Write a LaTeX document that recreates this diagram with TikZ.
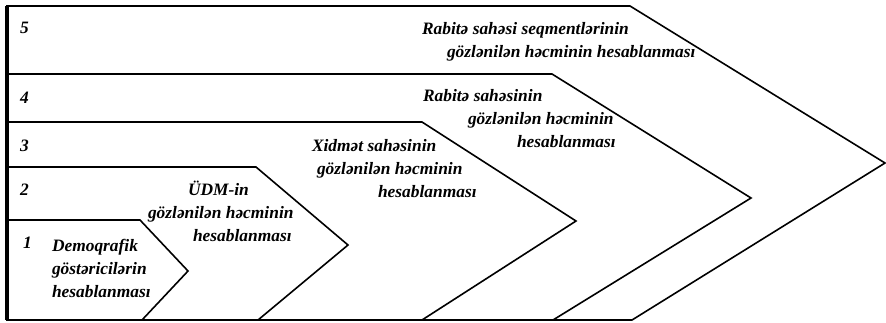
\documentclass[tikz,border=0pt]{standalone}
\usepackage{fontspec}
\setmainfont{Liberation Serif}
\usepackage{tikz}
\usetikzlibrary{positioning}
\newdimen\px
\px=0.5pt
\tikzset{
    chevron/.style={draw=black, fill=white, line width=0.8pt, line join=miter},
    lbl/.style={inner sep=0, outer sep=0, font=\bfseries\itshape\fontsize{8.7}{11.4}\selectfont},
    block/.style={lbl, align=left, anchor=base west}
}
\begin{document}
\begin{tikzpicture}[x=0.5pt, y=-0.5pt]
    \useasboundingbox (0,0) rectangle (886,322);

    % chevrons, biggest first
    \foreach \i/\t/\a/\tx/\ty/\b in {
        5/6/630/885/163/632,
        4/74/552/751/198/553,
        3/122/422/576/221/422,
        2/167/256/348/245/258,
        1/220/140/188/271/142}{

        \draw[chevron]
            (7,\t) -- (\a,\t) -- (\tx,\ty) -- (\b,320) -- (7,320) -- cycle;
    }

    % left border
    \draw[black, line width=1.6pt] (7,6) -- (7,320);

    % step numbers
    \foreach \i/\x/\y in {
        5/20/33,
        4/20/103,
        3/20/151,
        2/20/195,
        1/23/248}{

        \node[lbl, anchor=base west] (num\i) at (\x,\y) {\i};
    }

    % step texts (base = last line)
    \node[block] (demo) at (52,297)
        {Demoqrafik\\göstəricilərin\\hesablanması};
    \node[block] (udm) at (148,241)
        {\hspace*{40\px}ÜDM-in\\gözlənilən həcminin\\\hspace*{45\px}hesablanması};
    \node[block] (xidmet) at (312,197)
        {Xidmət sahəsinin\\\hspace*{5\px}gözlənilən həcminin\\\hspace*{66\px}hesablanması};
    \node[block] (rabite) at (423,147)
        {Rabitə sahəsinin\\\hspace*{45\px}gözlənilən həcminin\\\hspace*{94\px}hesablanması};
    \node[block] (segment) at (422,57)
        {Rabitə sahəsi seqmentlərinin\\\hspace*{25\px}gözlənilən həcminin hesablanması};
\end{tikzpicture}
\end{document}
